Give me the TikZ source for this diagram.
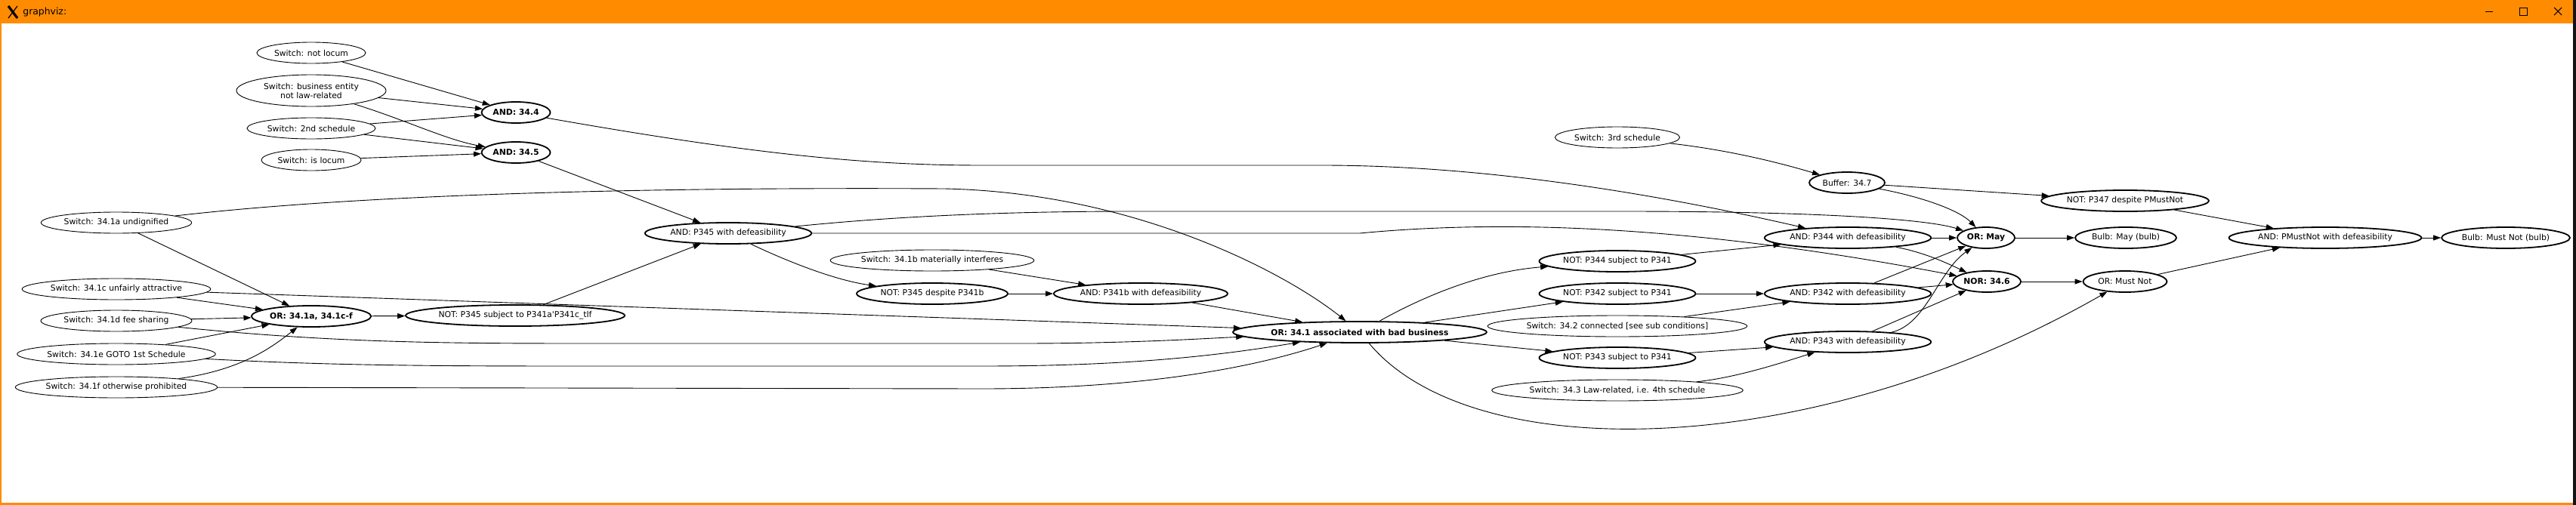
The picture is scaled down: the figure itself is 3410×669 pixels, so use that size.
\documentclass[tikz,border=0pt]{standalone}
\usepackage{fontspec}
\setmainfont{DejaVu Sans}
\usetikzlibrary{arrows.meta,shapes.geometric}
\definecolor{winorange}{RGB}{255,140,0}

\begin{document}
\begin{tikzpicture}[x=0.5pt, y=-0.5pt, font=\fontsize{5.4pt}{6pt}\selectfont,
  switch/.style={ellipse, draw, line width=0.45pt, inner sep=0.6pt, minimum height=14pt},
  gate/.style={ellipse, draw, line width=0.9pt, inner sep=0.6pt, minimum height=14pt},
  keygate/.style={gate, font=\fontsize{5.4pt}{6pt}\selectfont\bfseries},
  wpx/.style={minimum width=#1*0.5pt},
  wire/.style={line width=0.45pt, -{Triangle[length=5pt,width=3.5pt]}}]
  \useasboundingbox (0,0) rectangle (3410,669);
  % window frame
  \fill[white] (0,0) rectangle (3410,669);
  \fill[winorange] (0,0) rectangle (3406,31);
  \fill[winorange] (0,31) rectangle (2,669);
  \fill[winorange] (0,666) rectangle (3406,669);
  \fill[black!92] (3406,0) rectangle (3410,669);
  \draw[line width=1.6pt] (11,8) -- (23,24);
  \draw[line width=0.6pt] (23,8) -- (11,24);
  \node[anchor=west, inner sep=0pt, font=\fontsize{6.2pt}{7pt}\selectfont] (title) at (30,16) {graphviz:};
  \draw[line width=0.5pt] (3290,15) -- (3300,15);
  \draw[line width=0.5pt] (3335,10) rectangle (3345,20);
  \draw[line width=0.5pt] (3381,10) -- (3391,20) (3391,10) -- (3381,20);

  % switches
  \node[switch, wpx=144] (sNotLocum) at (412,70) {Switch: not locum};
  \node[switch, wpx=198, minimum height=21pt, align=center] (sBusiness) at (412,120) {Switch: business entity\\not law-related};
  \node[switch, wpx=170] (sSecond) at (412,170) {Switch: 2nd schedule};
  \node[switch, wpx=132] (sIsLocum) at (412,212) {Switch: is locum};
  \node[switch, wpx=199] (sA) at (154,295) {Switch: 34.1a undignified};
  \node[switch, wpx=245] (sC) at (154,383) {Switch: 34.1c unfairly attractive};
  \node[switch, wpx=199] (sD) at (154,425) {Switch: 34.1d fee sharing};
  \node[switch, wpx=258] (sE) at (154,469) {Switch: 34.1e GOTO 1st Schedule};
  \node[switch, wpx=262] (sF) at (154,513) {Switch: 34.1f otherwise prohibited};
  \node[switch, wpx=264] (sB) at (1234,345) {Switch: 34.1b materially interferes};
  \node[switch, wpx=165] (sThird) at (2141,182) {Switch: 3rd schedule};
  \node[switch, wpx=333] (sTwo) at (2141,432) {Switch: 34.2 connected [see sub conditions]};
  \node[switch, wpx=319] (sThree) at (2141,517) {Switch: 34.3 Law-related, i.e. 4th schedule};

  % gates
  \node[keygate, wpx=91] (and44) at (683,149) {AND: 34.4};
  \node[keygate, wpx=91] (and45) at (683,202) {AND: 34.5};
  \node[keygate, wpx=148] (orA) at (412,419) {OR: 34.1a, 34.1c-f};
  \node[gate, wpx=285] (notSubj) at (682,418) {NOT: P345 subject to P341a\textquotesingle P341c\_tlf};
  \node[gate, wpx=220] (andP345) at (964,309) {AND: P345 with defeasibility};
  \node[gate, wpx=200] (notDespite) at (1234,389) {NOT: P345 despite P341b};
  \node[gate, wpx=229] (andP341b) at (1510,389) {AND: P341b with defeasibility};
  \node[keygate, wpx=294] (or341) at (1800,440) {OR: 34.1 associated with bad business};
  \node[gate, wpx=100] (buffer) at (2445,242) {Buffer: 34.7};
  \node[gate, wpx=207] (notP344) at (2141,346) {NOT: P344 subject to P341};
  \node[gate, wpx=207] (notP342) at (2141,389) {NOT: P342 subject to P341};
  \node[gate, wpx=207] (notP343) at (2141,474) {NOT: P343 subject to P341};
  \node[gate, wpx=220] (andP344) at (2446,315) {AND: P344 with defeasibility};
  \node[gate, wpx=220] (andP342) at (2446,389) {AND: P342 with defeasibility};
  \node[gate, wpx=220] (andP343) at (2446,453) {AND: P343 with defeasibility};
  \node[keygate, wpx=76] (orMay) at (2629,315) {OR: May};
  \node[keygate, wpx=90] (nor346) at (2630,373) {NOR: 34.6};
  \node[gate, wpx=221] (notP347) at (2813,266) {NOT: P347 despite PMustNot};
  \node[gate, wpx=134] (bulbMay) at (2814,315) {Bulb: May (bulb)};
  \node[gate, wpx=111] (orMustNot) at (2813,373) {OR: Must Not};
  \node[gate, wpx=252] (andMustNot) at (3078,315) {AND: PMustNot with defeasibility};
  \node[gate, wpx=170] (bulbMustNot) at (3317,315) {Bulb: Must Not (bulb)};

  % inputs of 34.4 and 34.5
  \draw[wire] (sNotLocum) -- (and44);
  \draw[wire] (sBusiness) -- (and44);
  \draw[wire] (sBusiness) .. controls (540,160) and (590,185) .. (and45);
  \draw[wire] (sSecond) -- (and44);
  \draw[wire] (sSecond) -- (and45);
  \draw[wire] (sIsLocum) -- (and45);

  % 34.1 switches
  \draw[wire] (sA) -- (orA);
  \draw[wire] (sC) -- (orA);
  \draw[wire] (sD) -- (orA);
  \draw[wire] (sE) -- (orA);
  \draw[wire] (sF) .. controls (320,490) and (360,460) .. (orA);
  \draw[wire] (sA) .. controls (500,255) and (900,248) .. (1250,250) .. controls (1500,255) and (1700,360) .. (or341);
  \draw[wire] (sC) -- (or341);
  \draw[wire] (sD) .. controls (450,455) and (600,455) .. (800,455) -- (1350,455) .. controls (1500,455) and (1600,448) .. (or341);
  \draw[wire] (sE) .. controls (450,485) and (600,485) .. (800,485) -- (1300,485) .. controls (1500,485) and (1620,470) .. (or341);
  \draw[wire] (sF) -- (1300,515) .. controls (1500,515) and (1650,490) .. (or341);

  % P345 chain
  \draw[wire] (orA) -- (notSubj);
  \draw[wire] (notSubj) -- (andP345);
  \draw[wire] (and45) -- (andP345);
  \draw[wire] (andP345) .. controls (1050,350) and (1110,372) .. (notDespite);
  \draw[wire] (notDespite) -- (andP341b);
  \draw[wire] (sB) -- (andP341b);
  \draw[wire] (andP341b) -- (or341);
  \draw[wire] (and44) .. controls (1000,205) and (1150,219) .. (1300,219) -- (1750,219) .. controls (2000,219) and (2250,270) .. (andP344);
  \draw[wire] (andP345) .. controls (1200,285) and (1350,280) .. (1500,280) -- (2150,280) .. controls (2400,280) and (2550,290) .. (orMay);
  \draw[wire] (andP345) -- (1800,309) .. controls (2000,290) and (2250,300) .. (nor346);

  % OR 34.1 fans out
  \draw[wire] (or341) .. controls (1880,395) and (1960,360) .. (notP344);
  \draw[wire] (or341) -- (notP342);
  \draw[wire] (or341) -- (notP343);
  \draw[wire] (or341) .. controls (1950,620) and (2400,610) .. (orMustNot);

  % P344 / P342 / P343
  \draw[wire] (notP344) -- (andP344);
  \draw[wire] (notP342) -- (andP342);
  \draw[wire] (sTwo) -- (andP342);
  \draw[wire] (notP343) -- (andP343);
  \draw[wire] (sThree) .. controls (2300,500) and (2360,480) .. (andP343);
  \draw[wire] (sThird) .. controls (2300,200) and (2370,220) .. (buffer);
  \draw[wire] (buffer) .. controls (2550,262) and (2595,280) .. (orMay);
  \draw[wire] (buffer) -- (notP347);
  \draw[wire] (andP344) -- (orMay);
  \draw[wire] (andP344) .. controls (2550,335) and (2580,350) .. (nor346);
  \draw[wire] (andP342) -- (orMay);
  \draw[wire] (andP342) -- (nor346);
  \draw[wire] (andP343) -- (nor346);
  \draw[wire] (andP343) .. controls (2550,430) and (2565,360) .. (orMay);

  % outputs
  \draw[wire] (orMay) -- (bulbMay);
  \draw[wire] (nor346) -- (orMustNot);
  \draw[wire] (orMustNot) -- (andMustNot);
  \draw[wire] (notP347) -- (andMustNot);
  \draw[wire] (andMustNot) -- (bulbMustNot);
\end{tikzpicture}
\end{document}
